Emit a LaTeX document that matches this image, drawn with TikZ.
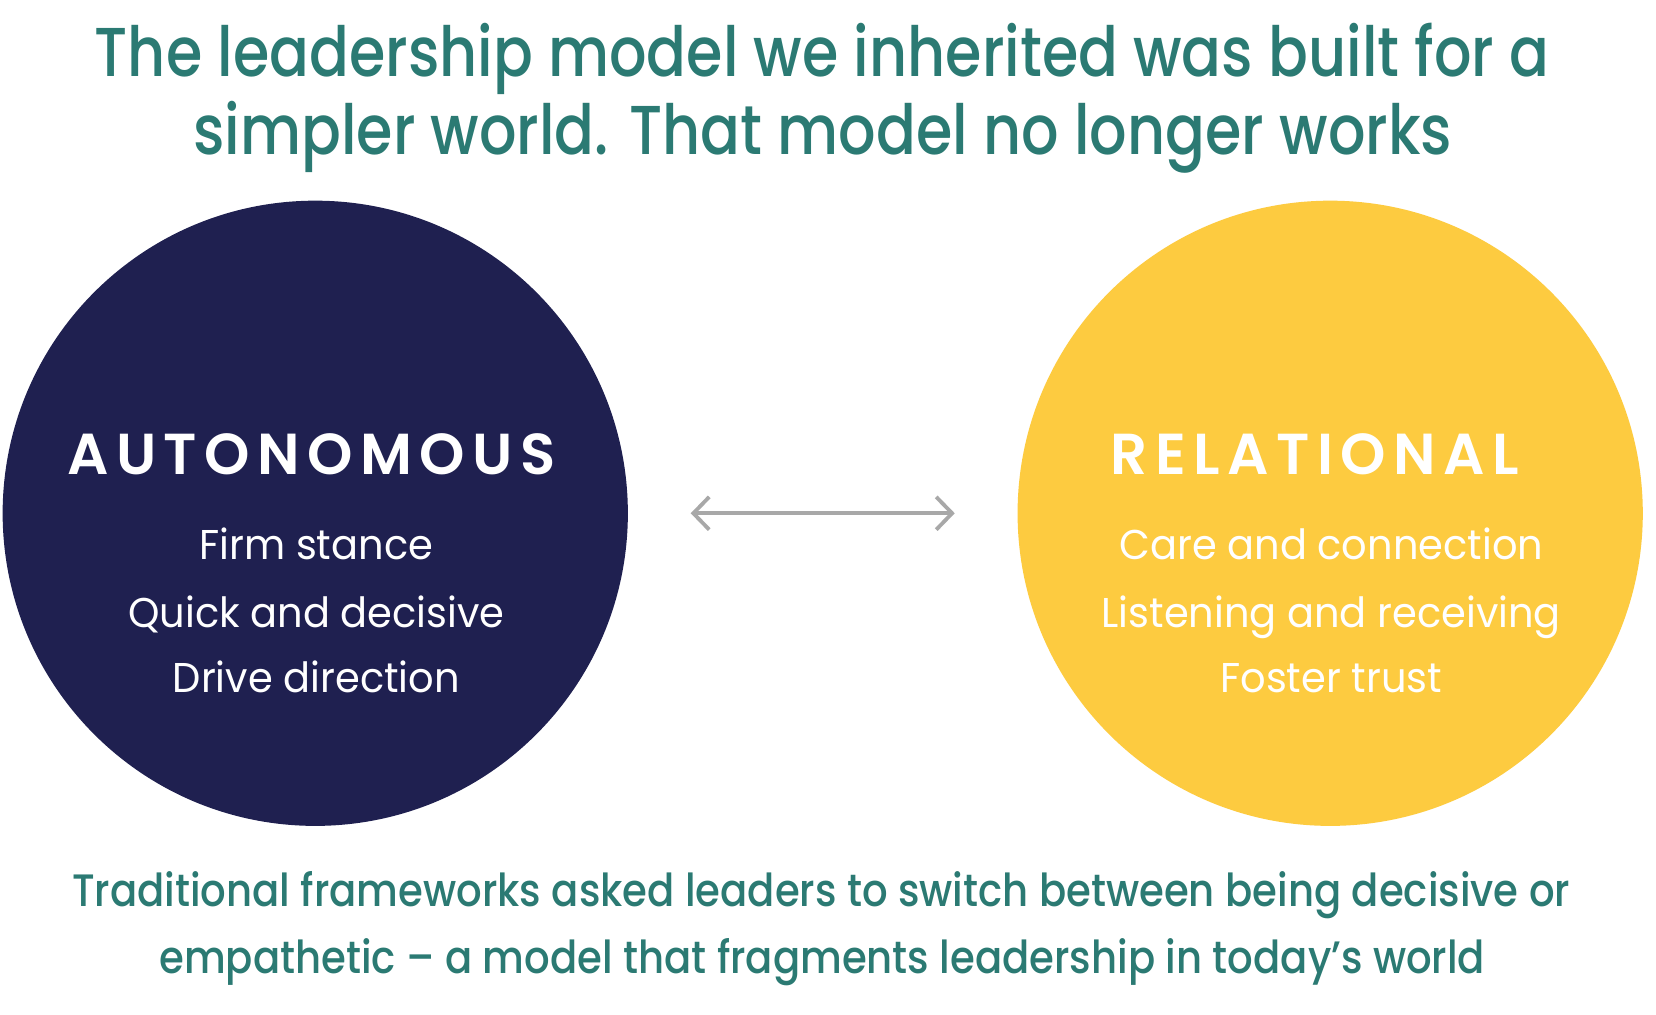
\documentclass[tikz,border=0pt]{standalone}
\usepackage{fontspec}
\setmainfont{Poppins}
\newfontfamily\titlefont[FakeStretch=0.85]{Poppins Medium}
\newfontfamily\itemfont[FakeStretch=0.96]{Poppins}
\newfontfamily\footfont[FakeStretch=0.885]{Poppins Medium}
\newfontfamily\headfont[LetterSpace=13]{Poppins SemiBold}
\usetikzlibrary{arrows.meta}
\definecolor{teal}{HTML}{2B7A73}
\definecolor{navy}{HTML}{1F2050}
\definecolor{gold}{HTML}{FDCB40}
\definecolor{arrgray}{HTML}{A8A8A8}
\tikzset{
  txt/.style={inner sep=0pt, anchor=base},
  title/.style={txt, text=teal, font=\fontsize{65.5}{70}\titlefont},
  foot/.style={txt, text=teal, font=\fontsize{43}{50}\footfont},
  head/.style={txt, text=white, font=\fontsize{54.7}{60}\headfont},
  item/.style={txt, text=white, font=\fontsize{39.4}{46}\itemfont},
  circ/.style={circle, minimum size=592pt, inner sep=0pt},
  barbtip/.tip={Straight Barb[length=15pt,width=31pt,line width=3.6pt]},
  link/.style={draw=arrgray, line width=3.6pt, {barbtip}-{barbtip}}
}
\begin{document}
\begin{tikzpicture}[x=1pt,y=-1pt]
\useasboundingbox[fill=white] (0,0) rectangle (1568,961);
\node[title] (t1) at (778.5,72.6) {The leadership model we inherited was built for a};
\node[title] (t2) at (779,146) {simpler world. That model no longer works};
\node[circ, fill=navy] (left) at (298.5,486) {};
\node[circ, fill=gold] (right) at (1259.5,486) {};
\node[head] (h1) at (295,449) {AUTONOMOUS};
\node[head] (h2) at (1245,449) {RELATIONAL};
\node[item] (l1) at (299.5,530) {Firm stance};
\node[item] (l2) at (299.5,594) {Quick and decisive};
\node[item] (l3) at (299.5,656) {Drive direction};
\node[item] (r1) at (1260.5,530) {Care and connection};
\node[item] (r2) at (1260.5,594) {Listening and receiving};
\node[item] (r3) at (1260.5,656) {Foster trust};
\coordinate (aL) at (654,486);
\coordinate (aR) at (904,486);
\draw[link] (aL) -- (aR);
\node[foot] (f1) at (777.5,858.6) {Traditional frameworks asked leaders to switch between being decisive or};
\node[foot] (f2) at (778.5,921.6) {empathetic – a model that fragments leadership in today’s world};
\end{tikzpicture}
\end{document}
